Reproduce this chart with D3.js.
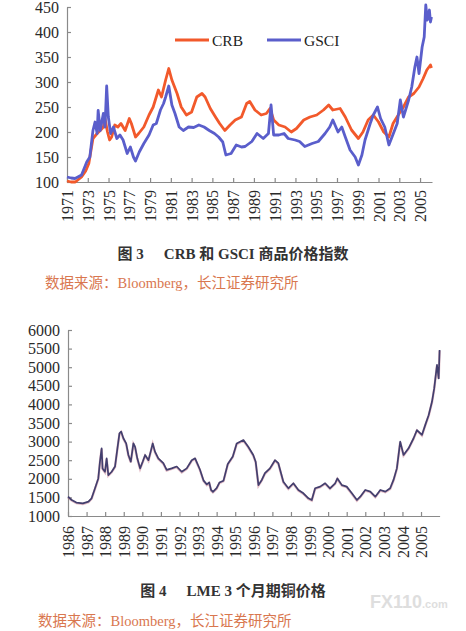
<!DOCTYPE html>
<html>
<head>
<meta charset="utf-8">
<script src="https://cdn.jsdelivr.net/npm/d3@7"></script>
<style>
  html, body { margin: 0; padding: 0; background: #fff; }
  svg { display: block; }
  .axis path, .axis line { stroke: #8a8a8a; stroke-width: 1.2; }
</style>
</head>
<body>
<svg id="chart" width="466" height="631"></svg>
<script>
// ---------- DATA ----------
// Fig 3: CRB index  [year, value]
const crb = [
  [1971.0,102],[1971.4,100],[1971.8,100],[1972.4,110],[1972.8,122],[1973.1,137],[1973.5,187],[1973.9,197],
  [1974.2,203],[1974.5,210],[1974.66,227],[1974.9,200],[1975.1,184],[1975.3,190],[1975.6,214],[1975.9,210],
  [1976.2,217],[1976.6,203],[1977.0,227],[1977.2,217],[1977.6,190],[1977.9,197],[1978.4,210],[1978.9,234],
  [1979.3,250],[1979.8,284],[1980.1,270],[1980.5,304],[1980.8,327],[1981.1,304],[1981.6,277],[1982.0,250],
  [1982.5,234],[1983.0,240],[1983.5,270],[1984.0,277],[1984.3,270],[1984.8,247],[1985.3,230],[1985.7,217],
  [1986.2,203],[1986.7,214],[1987.2,224],[1987.8,230],[1988.3,257],[1988.6,261],[1989.1,244],[1989.7,234],
  [1990.2,237],[1990.55,247],[1990.9,224],[1991.4,214],[1992.0,210],[1992.6,200],[1993.1,207],[1993.8,224],
  [1994.4,230],[1995.05,234],[1995.7,244],[1996.2,254],[1996.6,244],[1997.3,247],[1997.8,230],[1998.4,204],
  [1999.06,187],[1999.5,200],[2000.0,224],[2000.5,234],[2001.0,220],[2001.5,200],[2002.0,190],[2002.4,217],
  [2002.9,234],[2003.4,250],[2003.9,270],[2004.4,277],[2004.9,290],[2005.3,307],[2005.65,324],[2006.0,334],[2006.1,328]
];
// Fig 3: GSCI index [year, value]
const gsci = [
  [1971.0,110],[1971.4,108],[1971.77,107],[1972.4,114],[1972.9,140],[1973.2,150],[1973.5,203],[1973.7,220],
  [1973.9,197],[1974.0,243],[1974.2,203],[1974.5,237],[1974.66,210],[1974.82,292],[1974.98,230],[1975.2,197],
  [1975.47,210],[1975.8,187],[1976.1,194],[1976.4,184],[1976.8,157],[1977.1,170],[1977.4,150],[1977.6,142],
  [1977.96,160],[1978.4,177],[1978.9,194],[1979.3,214],[1979.6,217],[1980.0,244],[1980.3,257],[1980.5,270],
  [1980.8,292],[1981.1,254],[1981.4,237],[1981.8,210],[1982.2,203],[1982.7,210],[1983.2,209],[1983.7,214],
  [1984.2,210],[1984.7,203],[1985.2,197],[1985.6,190],[1986.0,180],[1986.3,154],[1986.8,157],[1987.3,174],
  [1987.8,170],[1988.15,171],[1988.8,181],[1989.3,197],[1989.9,187],[1990.4,197],[1990.65,254],[1990.9,194],
  [1991.4,194],[1991.9,197],[1992.3,187],[1992.96,184],[1993.4,181],[1993.9,171],[1994.6,177],[1995.2,181],
  [1995.85,197],[1996.3,210],[1996.6,224],[1997.1,200],[1997.46,210],[1997.8,190],[1998.26,164],[1998.75,150],
  [1999.06,134],[1999.4,154],[1999.7,184],[2000.2,217],[2000.5,234],[2000.9,250],[2001.2,227],[2001.6,210],
  [2002.0,174],[2002.3,190],[2002.8,217],[2003.1,264],[2003.4,230],[2003.9,264],[2004.2,290],[2004.5,330],
  [2004.7,350],[2004.9,317],[2005.2,370],[2005.4,390],[2005.55,454],[2005.7,424],[2005.9,444],[2006.0,420],[2006.1,430]
];
// Fig 4: LME 3-month copper [year, value]
const copper = [
  [1986.0,1520],[1986.2,1430],[1986.45,1360],[1986.8,1340],[1987.1,1385],[1987.27,1475],[1987.45,1740],
  [1987.63,2010],[1987.72,2460],[1987.81,2820],[1987.86,2280],[1987.99,2190],[1988.08,2550],[1988.17,2100],
  [1988.35,2190],[1988.53,2330],[1988.66,2820],[1988.77,3220],[1988.86,3270],[1988.98,3090],[1989.13,2950],
  [1989.25,2640],[1989.38,2460],[1989.52,2950],[1989.61,2860],[1989.73,2550],[1989.88,2280],[1990.02,2460],
  [1990.15,2640],[1990.33,2500],[1990.45,2730],[1990.56,2950],[1990.68,2730],[1990.86,2550],[1991.13,2420],
  [1991.31,2240],[1991.58,2280],[1991.85,2330],[1992.12,2190],[1992.39,2280],[1992.66,2500],[1992.84,2550],
  [1993.1,2250],[1993.3,1950],[1993.47,1850],[1993.6,1900],[1993.7,1700],[1993.8,1650],[1994.0,1750],
  [1994.15,1900],[1994.37,1950],[1994.6,2400],[1994.87,2600],[1995.08,2950],[1995.44,3040],[1995.7,2860],
  [1995.97,2640],[1996.1,2460],[1996.25,1830],[1996.43,1970],[1996.6,2150],[1996.87,2280],[1997.14,2500],
  [1997.32,2420],[1997.59,1920],[1997.86,1745],[1998.13,1880],[1998.4,1700],[1998.67,1610],[1998.94,1475],
  [1999.12,1430],[1999.3,1745],[1999.57,1790],[1999.84,1880],[2000.1,1745],[2000.38,1880],[2000.5,2010],
  [2000.74,1830],[2001.0,1790],[2001.28,1610],[2001.55,1430],[2001.73,1520],[2002.0,1700],[2002.27,1655],
  [2002.54,1520],[2002.81,1700],[2003.08,1655],[2003.34,1745],[2003.52,1970],[2003.7,2280],[2003.88,3000],
  [2004.06,2640],[2004.33,2820],[2004.6,3090],[2004.78,3310],[2005.05,3180],[2005.23,3450],[2005.41,3710],
  [2005.59,4070],[2005.71,4430],[2005.86,5060],[2005.95,4700],[2006.0,5460]
];
const topYears = d3.range(1971, 2006, 2);
const topYTicks = [100,150,200,250,300,350,400,450];
const botYears = d3.range(1986, 2006, 1);
const botYTicks = [1000,1500,2000,2500,3000,3500,4000,4500,5000,5500,6000];
const seriesNames = ["CRB", "GSCI"];
const caption1 = ["图 3", "CRB 和 GSCI 商品价格指数"];
const caption2 = ["图 4", "LME 3 个月期铜价格"];
const sourceText = "数据来源：Bloomberg，长江证券研究所";

// ---------- DRAW ----------
const svg = d3.select("#chart");
const colCRB = "#f2592b", colGSCI = "#5a5ecb", colCu = "#423f6e";
const serif = "'Liberation Serif', 'DejaVu Serif', serif";

function styleTicks(g) {
  g.attr("font-family", null).attr("font-size", null);
  g.selectAll(".tick text")
    .attr("font-family", serif).attr("font-size", 16).attr("fill", "#2a2a2a")
    .style("font-family", serif);
}

function xAxisRotated(g, scale, vals, off) {
  g.call(d3.axisBottom(scale).tickValues(vals).tickFormat(d3.format("d")).tickSizeInner(-4).tickSizeOuter(0));
  styleTicks(g);
  g.selectAll(".tick text")
    .attr("transform", "rotate(-90)")
    .attr("text-anchor", "end")
    .attr("x", -off).attr("y", 0).attr("dy", "0.35em");
}

// Top chart
const x1 = d3.scaleLinear().domain([1971, 2006.15]).range([67, 432]);
const y1 = d3.scaleLinear().domain([100, 450]).range([182, 7]);
svg.append("g").attr("class","axis").attr("transform","translate(0,182)")
  .call(g => xAxisRotated(g, x1, topYears, 8));
svg.append("g").attr("class","axis").attr("transform","translate(67,0)")
  .call(d3.axisLeft(y1).tickValues(topYTicks).tickFormat(d3.format("d")).tickSizeInner(-4).tickSizeOuter(0).tickPadding(8))
  .call(styleTicks);

const line1 = d3.line().x(d => x1(d[0])).y(d => y1(d[1]));
svg.append("path").datum(crb).attr("d", line1)
  .attr("fill","none").attr("stroke",colCRB).attr("stroke-width",2.8).attr("stroke-linejoin","round");
svg.append("path").datum(gsci).attr("d", line1)
  .attr("fill","none").attr("stroke",colGSCI).attr("stroke-width",2.8).attr("stroke-linejoin","round");

// legend
const leg = [{n: seriesNames[0], c: colCRB, x: 175}, {n: seriesNames[1], c: colGSCI, x: 267}];
leg.forEach(l => {
  svg.append("line").attr("x1", l.x).attr("x2", l.x + 34).attr("y1", 40).attr("y2", 40)
    .attr("stroke", l.c).attr("stroke-width", 2.8);
  svg.append("text").attr("x", l.x + 37).attr("y", 45.5).text(l.n)
    .attr("font-family", serif).attr("font-size", 15.5).attr("fill", "#222");
});

// Bottom chart
const x2 = d3.scaleLinear().domain([1986, 2006.0]).range([68, 439.6]);
const y2 = d3.scaleLinear().domain([1000, 6000]).range([516, 330]);
svg.append("g").attr("class","axis").attr("transform","translate(0,516)")
  .call(g => xAxisRotated(g, x2, botYears, 10));
svg.append("g").attr("class","axis").attr("transform","translate(68,0)")
  .call(d3.axisLeft(y2).tickValues(botYTicks).tickFormat(d3.format("d")).tickSizeInner(-4).tickSizeOuter(0).tickPadding(8))
  .call(styleTicks);

const line2 = d3.line().x(d => x2(d[0])).y(d => y2(d[1]));
svg.append("path").datum(copper).attr("d", line2)
  .attr("fill","none").attr("stroke","#c06a80").attr("stroke-width",2.4).attr("stroke-opacity",0.45)
  .attr("transform","translate(0,0.6)");
svg.append("path").datum(copper).attr("d", line2)
  .attr("fill","none").attr("stroke",colCu).attr("stroke-width",1.7).attr("stroke-linejoin","round");

// Captions
function caption(cx, y, parts) {
  const t = svg.append("text").attr("x", cx).attr("y", y).attr("text-anchor","middle")
    .attr("font-family", "'Liberation Serif', 'Noto Sans CJK SC', serif").attr("font-weight","bold")
    .attr("font-size", 15).attr("fill", "#333");
  t.append("tspan").text(parts[0]);
  t.append("tspan").attr("dx", 20).text(parts[1]);
}
caption(233, 259, caption1);
caption(233, 596, caption2);

function source(x, y) {
  svg.append("text").attr("x", x).attr("y", y).text(sourceText)
    .attr("font-family", "'Liberation Serif', 'Noto Sans CJK SC', serif")
    .attr("font-size", 14.5).attr("fill", "#d9774f");
}
source(45, 288);
source(38, 626);

// watermark
const wm = svg.append("text").attr("x", 370).attr("y", 608)
  .attr("font-family","'Liberation Sans', Arial, sans-serif").attr("font-weight","bold").attr("fill","#dedede");
wm.append("tspan").attr("font-size", 18).text("FX110");
wm.append("tspan").attr("font-size", 11).text(".com");
</script>
</body>
</html>
